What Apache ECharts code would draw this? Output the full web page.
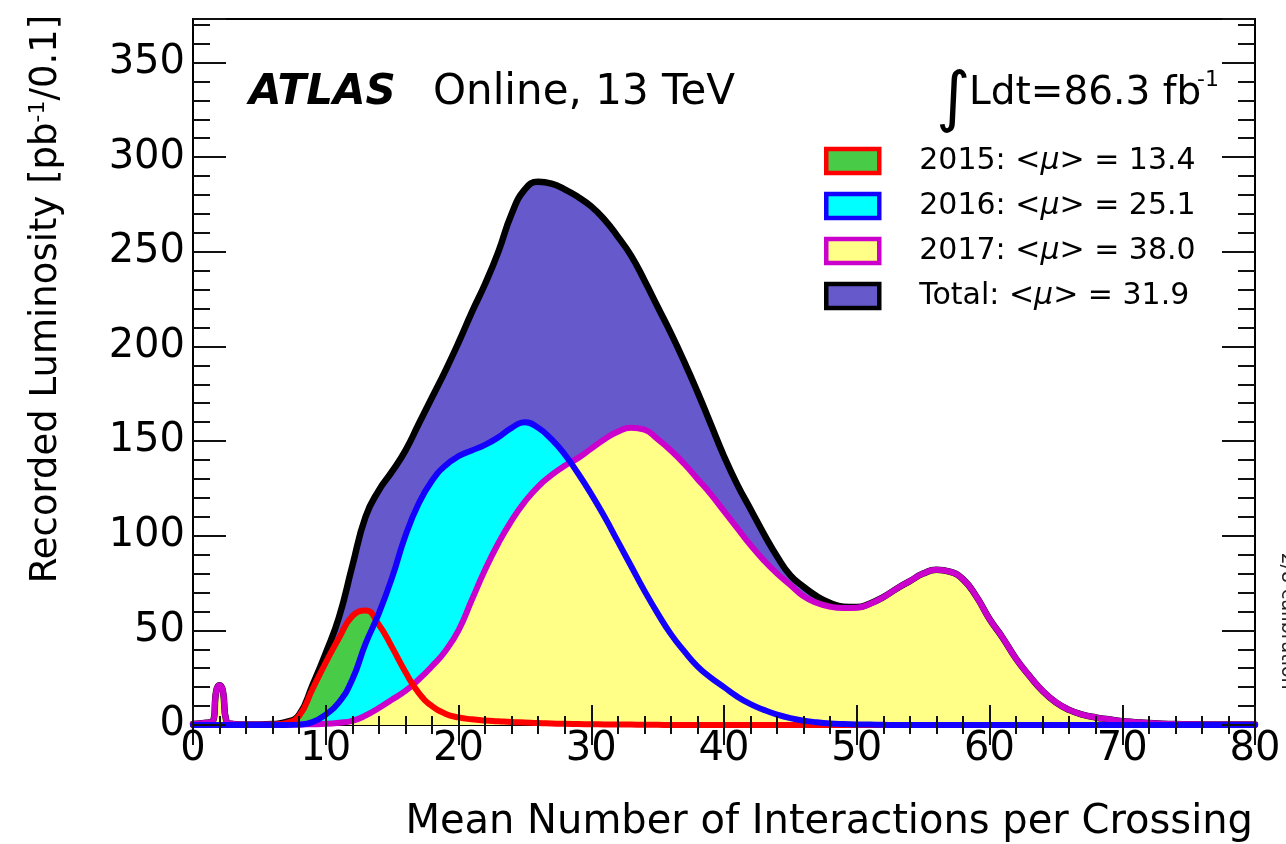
<!DOCTYPE html>
<html>
<head>
<meta charset="utf-8">
<script src="https://cdn.jsdelivr.net/npm/echarts@6/dist/echarts.min.js"></script>
<style>
html,body{margin:0;padding:0;background:#fff;}
#chart{width:1286px;height:844px;}
</style>
</head>
<body>
<div id="chart"></div>
<script>
// Mean number of interactions per crossing (x positions of the histogram points)
const mu = [0, 1, 1.5, 1.75, 2, 2.25, 2.5, 3,
  4, 5, 6, 7, 8, 9, 10, 11, 12, 13,
  14, 15, 16, 17, 18, 19, 20, 21, 22, 23,
  24, 25, 26, 27, 28, 29, 30, 31, 32, 33,
  34, 35, 36, 37, 38, 39, 40, 41, 42, 43,
  44, 45, 46, 47, 48, 49, 50, 51, 52, 53,
  54, 55, 56, 57, 58, 59, 60, 61, 62, 63,
  64, 65, 66, 67, 68, 69, 70, 71, 72, 73,
  74, 75, 76, 77, 78, 79, 80];

const lumi2015 = [0, 0, 0, 0, 0, 0, 0, 0,
  0, 0, 0.2, 1, 5, 19, 33, 46, 57.5, 60.5,
  53, 41, 28, 17, 10, 6, 4, 3, 2.4, 2,
  1.6, 1.3, 1, 0.8, 0.6, 0.5, 0.4, 0.3, 0.2, 0.2,
  0.1, 0.1, 0, 0, 0, 0, 0, 0, 0, 0,
  0, 0, 0, 0, 0, 0, 0, 0, 0, 0,
  0, 0, 0, 0, 0, 0, 0, 0, 0, 0,
  0, 0, 0, 0, 0, 0, 0, 0, 0, 0,
  0, 0, 0, 0, 0, 0, 0];

const lumi2016 = [0, 0, 0, 0, 0, 0, 0, 0,
  0, 0, 0, 0, 0.2, 1.5, 5.5, 12, 24, 43,
  59, 78, 100, 117, 129, 137, 142, 145, 148, 152,
  157, 160, 157, 151, 143, 133, 122, 110, 97, 84,
  71, 59, 48, 39, 31, 25, 20, 15, 11, 8,
  5.5, 3.6, 2.3, 1.4, 0.8, 0.5, 0.3, 0.2, 0.1, 0,
  0, 0, 0, 0, 0, 0, 0, 0, 0, 0,
  0, 0, 0, 0, 0, 0, 0, 0, 0, 0,
  0, 0, 0, 0, 0, 0, 0];

const lumi2017 = [0.5, 1.2, 2, 18, 21, 18, 2.5, 0.6,
  0.3, 0.3, 0.3, 0.3, 0.3, 0.4, 0.6, 1.2, 2.2, 5,
  9, 13.5, 18, 24, 31, 39, 50, 66, 82, 96,
  108, 118, 126, 132, 137, 141, 146, 151, 155, 157,
  156, 151, 145, 138, 130, 122, 113, 104, 95, 87,
  80, 74, 68, 64.5, 62.5, 61.8, 62, 64, 67.5, 72,
  76, 80, 82, 81, 77, 68, 56, 46, 35, 26,
  18, 12, 8, 5.5, 4, 3, 2, 1.5, 1, 0.7,
  0.5, 0.4, 0.3, 0.3, 0.2, 0.2, 0.2];

const lumiTotal = [0.5, 1.2, 2, 18, 21, 18, 2.5, 0.6,
  0.3, 0.3, 0.5, 1.5, 5.5, 21, 38, 57, 84, 110,
  124, 134, 145, 159, 173, 187, 202, 218, 233, 250,
  270, 283, 287, 286, 283, 279, 274, 267, 258, 248,
  235, 221, 207, 192, 176, 159, 142, 127, 114, 101,
  89, 79, 73, 68, 64.5, 62.5, 62.3, 64.2, 67.6, 72,
  76, 80, 82, 81, 77, 68, 56, 46, 35, 26,
  18, 12, 8, 5.5, 4, 3, 2, 1.5, 1, 0.7,
  0.5, 0.4, 0.3, 0.3, 0.2, 0.2, 0.2];

const seriesNames = ['2015', '2016', '2017', 'Total'];
const meanMu = ['13.4', '25.1', '38.0', '31.9'];
const xTitle = 'Mean Number of Interactions per Crossing';
const yTitle = 'Recorded Luminosity [pb{sup|-1}/0.1]';

const FONT = '"DejaVu Sans", sans-serif';
const fillColors = {'2015': '#48CC48', '2016': '#00FFFF', '2017': '#FFFF88', 'Total': '#6659CC'};
const lineColors = {'2015': '#FF0000', '2016': '#1400FF', '2017': '#CC00CC', 'Total': '#000000'};
const values = {'2015': lumi2015, '2016': lumi2016, '2017': lumi2017, 'Total': lumiTotal};

function pts(arr) { return mu.map((x, i) => [x, arr[i]]); }

const SMOOTH = 0.5;
function fillSeries(name) {
  return {
    name: name, type: 'line', data: pts(values[name]), smooth: SMOOTH,
    showSymbol: false, symbol: 'none', silent: true,
    itemStyle: {color: fillColors[name]},
    lineStyle: {opacity: 0, width: 0},
    areaStyle: {color: fillColors[name], opacity: 1}
  };
}
function lineSeries(name) {
  return {
    name: name + ' line', type: 'line', data: pts(values[name]), smooth: SMOOTH,
    showSymbol: false, symbol: 'none', silent: true,
    itemStyle: {color: lineColors[name]},
    lineStyle: {color: lineColors[name], width: name === 'Total' ? 6.5 : 6, cap: 'round', join: 'round'}
  };
}

const YMAX = 373;
const tickStyle = {color: '#111', width: 2};
function xAx(pos, labels) {
  return {
    type: 'value', position: pos, min: 0, max: 80, interval: 10, z: 10,
    axisLine: {show: false},
    axisTick: {show: true, inside: true, length: 20, lineStyle: tickStyle},
    minorTick: {show: true, splitNumber: 5, length: 9, lineStyle: tickStyle},
    splitLine: {show: false},
    axisLabel: {show: labels, fontFamily: FONT, fontSize: 40, color: '#000', margin: 5}
  };
}
function yAx(pos, interval, len, labels) {
  return {
    type: 'value', position: pos, min: 0, max: YMAX, interval: interval, z: 10,
    axisLine: {show: false},
    axisTick: {show: true, inside: true, length: len, lineStyle: tickStyle},
    splitLine: {show: false},
    axisLabel: {show: labels, fontFamily: FONT, fontSize: 40, color: '#000', margin: 8,
      formatter: v => (v % 50 === 0 ? String(v) : '')}
  };
}

const legendData = seriesNames.map(n => ({
  name: n,
  itemStyle: {color: fillColors[n], borderColor: lineColors[n], borderWidth: 4.5}
}));

const chart = echarts.init(document.getElementById('chart'), null, {renderer: 'canvas'});
chart.setOption({
  animation: false,
  backgroundColor: '#fff',
  grid: {left: 193, right: 31, top: 19, bottom: 119, show: true, borderColor: '#000', borderWidth: 2, backgroundColor: 'transparent'},
  xAxis: [xAx('bottom', true), xAx('top', false)],
  yAxis: [yAx('left', 50, 33, true), yAx('left', 10, 17, false), yAx('right', 50, 33, false), yAx('right', 10, 17, false)],
  legend: {
    orient: 'vertical', left: 824, top: 146, padding: 0, selectedMode: false,
    icon: 'rect', itemWidth: 53, itemHeight: 24, itemGap: 15,
    data: legendData,
    formatter: name => {
      const i = seriesNames.indexOf(name);
      return name + ': <{i|\u03bc}> = ' + meanMu[i];
    },
    textStyle: {fontFamily: FONT, fontSize: 30, color: '#000', padding: [0, 0, 0, 35],
      rich: {i: {fontFamily: FONT, fontSize: 30, fontStyle: 'italic', color: '#000'}}}
  },
  series: [
    fillSeries('Total'), fillSeries('2015'), fillSeries('2016'), fillSeries('2017'),
    lineSeries('Total'), lineSeries('2017'), lineSeries('2015'), lineSeries('2016')
  ],
  graphic: [
    {type: 'text', x: 249, y: 93, style: {text: 'ATLAS', font: 'italic bold 42px ' + FONT, fill: '#000', verticalAlign: 'middle', align: 'left'}},
    {type: 'text', x: 433, y: 93, style: {text: 'Online, 13 TeV', font: '42px ' + FONT, fill: '#000', verticalAlign: 'middle', align: 'left'}},
    {type: 'text', x: 936, y: 102, style: {text: '\u222b', font: '66px ' + FONT, fill: '#000', verticalAlign: 'middle', align: 'left'}},
    {type: 'text', x: 969, y: 94, style: {text: 'Ldt=86.3 fb', font: '39px ' + FONT, fill: '#000', verticalAlign: 'middle', align: 'left'}},
    {type: 'text', x: 1197, y: 80, style: {text: '-1', font: '22px ' + FONT, fill: '#000', verticalAlign: 'middle', align: 'left'}},
    {type: 'text', x: 1253, y: 823, style: {text: xTitle, font: '40px ' + FONT, fill: '#000', verticalAlign: 'middle', align: 'right'}},
    {type: 'text', x: 46, y: 299, rotation: Math.PI / 2,
      style: {text: yTitle, font: '37px ' + FONT, fill: '#000', verticalAlign: 'middle', align: 'center',
        rich: {sup: {fontFamily: FONT, fontSize: 22, verticalAlign: 'top', padding: [0, 0, 14, 0]}}}},
    {type: 'text', x: 1277, y: 621, rotation: -Math.PI / 2,
      style: {text: '2/8 calibration', font: '19px ' + FONT, fill: '#222', verticalAlign: 'bottom', align: 'center'}}
  ]
});
</script>
</body>
</html>
